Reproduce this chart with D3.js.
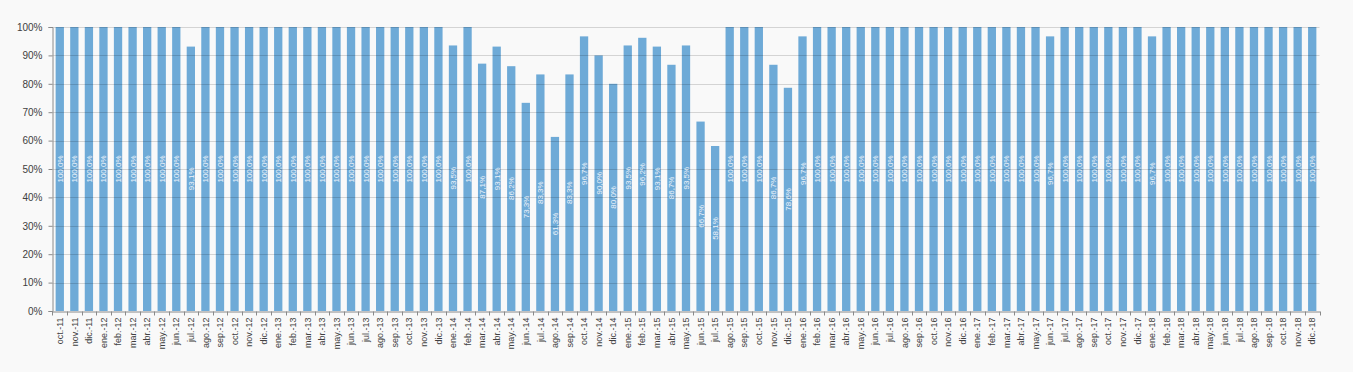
<!DOCTYPE html>
<html>
<head>
<meta charset="utf-8">
<script src="https://cdn.jsdelivr.net/npm/d3@7"></script>
<style>
  html, body { margin: 0; padding: 0; background: #f9f9f9; }
  svg { display: block; }
</style>
</head>
<body>
<svg id="chart" width="1353" height="372"></svg>
<script>
const categories = [
  "oct.-11","nov.-11","dic.-11",
  "ene.-12","feb.-12","mar.-12","abr.-12","may.-12","jun.-12","jul.-12","ago.-12","sep.-12","oct.-12","nov.-12","dic.-12",
  "ene.-13","feb.-13","mar.-13","abr.-13","may.-13","jun.-13","jul.-13","ago.-13","sep.-13","oct.-13","nov.-13","dic.-13",
  "ene.-14","feb.-14","mar.-14","abr.-14","may.-14","jun.-14","jul.-14","ago.-14","sep.-14","oct.-14","nov.-14","dic.-14",
  "ene.-15","feb.-15","mar.-15","abr.-15","may.-15","jun.-15","jul.-15","ago.-15","sep.-15","oct.-15","nov.-15","dic.-15",
  "ene.-16","feb.-16","mar.-16","abr.-16","may.-16","jun.-16","jul.-16","ago.-16","sep.-16","oct.-16","nov.-16","dic.-16",
  "ene.-17","feb.-17","mar.-17","abr.-17","may.-17","jun.-17","jul.-17","ago.-17","sep.-17","oct.-17","nov.-17","dic.-17",
  "ene.-18","feb.-18","mar.-18","abr.-18","may.-18","jun.-18","jul.-18","ago.-18","sep.-18","oct.-18","nov.-18","dic.-18"
];
const values = [
  100,100,100,
  100,100,100,100,100,100,93.1,100,100,100,100,100,
  100,100,100,100,100,100,100,100,100,100,100,100,
  93.5,100,87.1,93.1,86.2,73.3,83.3,61.3,83.3,96.7,90.0,80.0,
  93.5,96.2,93.1,86.7,93.5,66.7,58.1,100,100,100,86.7,78.6,
  96.7,100,100,100,100,100,100,100,100,100,100,100,
  100,100,100,100,100,96.7,100,100,100,100,100,100,
  96.7,100,100,100,100,100,100,100,100,100,100,100
];
const yTicks = [0,10,20,30,40,50,60,70,80,90,100];

const data = categories.map((c, i) => ({ cat: c, val: values[i] }));

const svg = d3.select("#chart");
const mLeft = 52.5, mRight = 1319.5, mTop = 27, mBottom = 311;

const x = d3.scaleBand().domain(categories).range([mLeft, mRight])
  .paddingInner(0.43).paddingOuter(0.215);
const y = d3.scaleLinear().domain([0, 100]).range([mBottom, mTop]);

const fmt = v => v.toFixed(1).replace(".", ",") + "%";

// bars
svg.append("g").selectAll("rect").data(data).join("rect")
  .attr("x", d => x(d.cat))
  .attr("y", d => y(d.val))
  .attr("width", x.bandwidth())
  .attr("height", d => y(0) - y(d.val))
  .attr("fill", "#6eaad7");

// gridlines (drawn over bars, translucent)
svg.append("g").selectAll("line").data(yTicks.filter(t => t > 0)).join("line")
  .attr("x1", mLeft).attr("x2", mRight)
  .attr("y1", d => Math.round(y(d)) + 0.5).attr("y2", d => Math.round(y(d)) + 0.5)
  .attr("stroke", "rgba(0,0,0,0.15)").attr("stroke-width", 1);

// data labels
svg.append("g").selectAll("text").data(data).join("text")
  .attr("transform", d => `translate(${x(d.cat) + x.bandwidth() / 2 + 3},${(y(d.val) + y(0)) / 2}) rotate(-90)`)
  .attr("text-anchor", "middle")
  .attr("font-family", "Liberation Sans, Arial, sans-serif")
  .attr("font-size", "8px")
  .attr("fill", "#eef4fb")
  .text(d => fmt(d.val));

// y axis
const yAxis = d3.axisLeft(y).tickValues(yTicks).tickFormat(d => d + "%").tickSize(4).tickPadding(6);
const gy = svg.append("g").attr("transform", `translate(${mLeft},0)`).call(yAxis);
gy.select(".domain").attr("stroke", "#8a8a8a");
gy.selectAll(".tick line").attr("stroke", "#8a8a8a");
gy.selectAll(".tick text").attr("font-family", "Liberation Sans, Arial, sans-serif")
  .attr("font-size", "10px").attr("fill", "#404040");

// x axis
const xAxis = d3.axisBottom(x).tickSize(0).tickSizeOuter(0);
const gx = svg.append("g").attr("transform", `translate(0,${mBottom + 0.5})`).call(xAxis);
gx.select(".domain").attr("stroke", "#8a8a8a");
gx.selectAll(".tick text")
  .attr("font-family", "Liberation Sans, Arial, sans-serif")
  .attr("font-size", "9px").attr("fill", "#404040")
  .attr("text-anchor", "end")
  .attr("transform", "rotate(-90)")
  .attr("x", -6).attr("y", 0).attr("dy", "0.35em");

// x tick marks between categories
const step = x.step();
const boundaries = categories.map(c => x(c) - (step - x.bandwidth()) / 2).concat([mRight]);
gx.append("g").selectAll("line").data(boundaries).join("line")
  .attr("x1", d => Math.round(d) + 0.5).attr("x2", d => Math.round(d) + 0.5)
  .attr("y1", 0).attr("y2", 4)
  .attr("stroke", "#8a8a8a");
</script>
</body>
</html>
